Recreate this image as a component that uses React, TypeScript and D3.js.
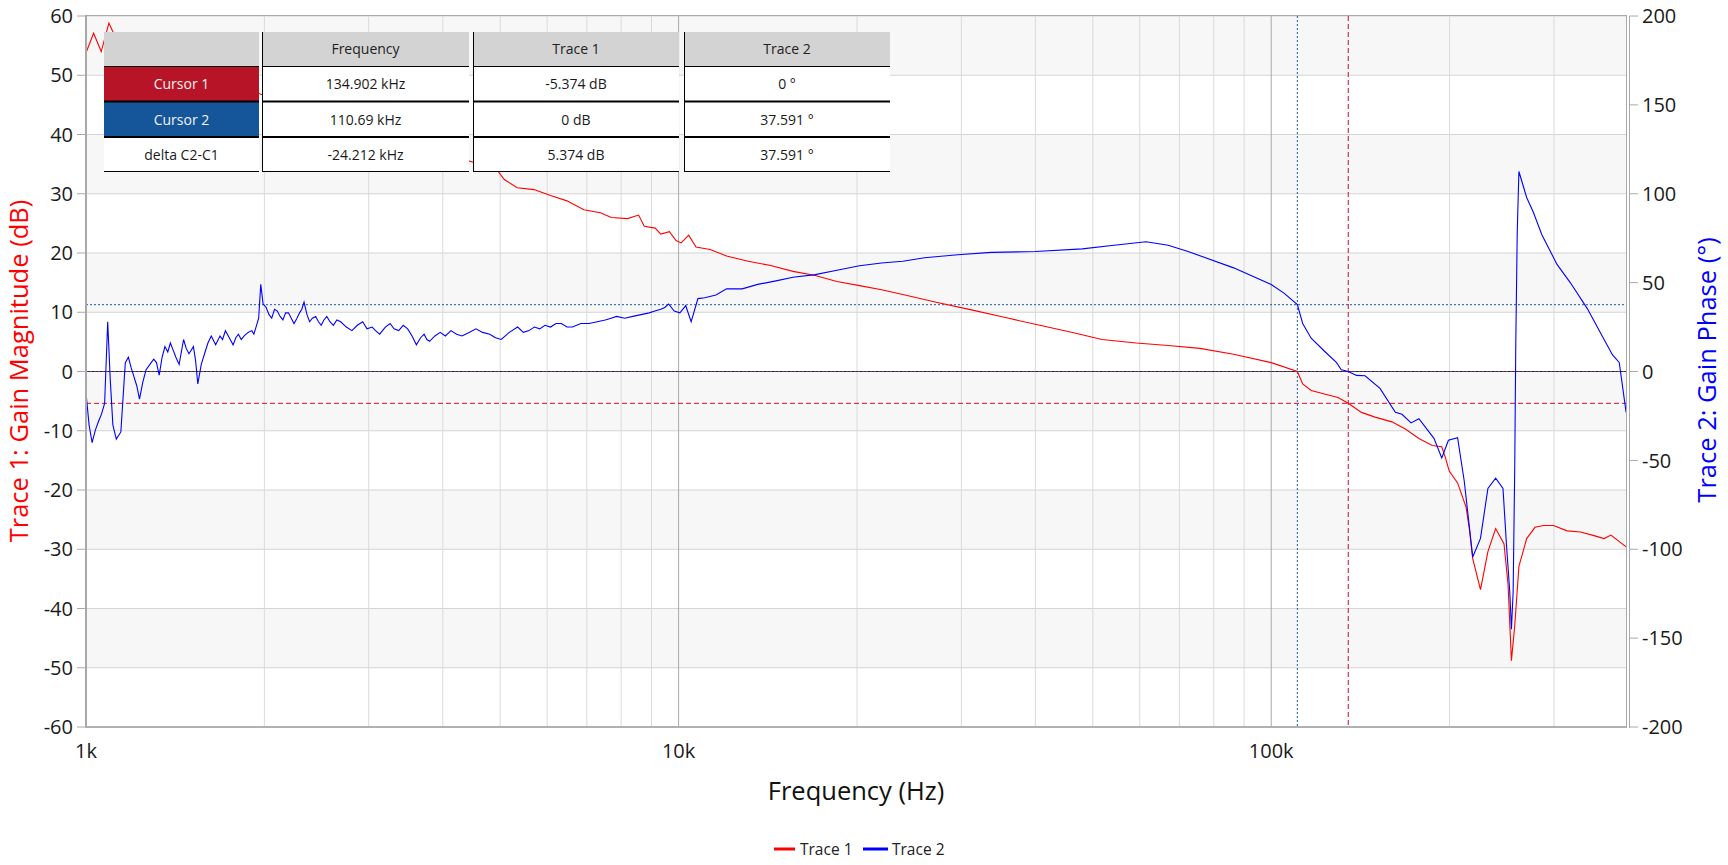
import React from 'react';
import * as d3 from 'd3';

// ---------- data ----------
const magTicks = [60, 50, 40, 30, 20, 10, 0, -10, -20, -30, -40, -50, -60];
const phaseTicks = [200, 150, 100, 50, 0, -50, -100, -150, -200];
const freqTicks = [1000, 10000, 100000];
const freqTickLabels = ['1k', '10k', '100k'];

// Trace 1: gain magnitude (dB)
const trace1FreqKHz = [
  1.0, 1.03, 1.061, 1.093, 1.12, 1.2, 1.3, 1.4, 1.55, 1.7,
  1.85, 2.0, 2.25, 2.5, 2.75, 3.0, 3.5, 4.0, 4.5, 4.95,
  5.08, 5.34, 5.7, 6.08, 6.48, 6.92, 7.38, 7.7, 8.2, 8.56,
  8.75, 9.13, 9.33, 9.65, 9.9, 10.1, 10.4, 10.7, 11.3, 12.05,
  13.1, 14.3, 15.6, 17.0, 18.5, 20.2, 22.0, 23.9, 27.2, 31.2,
  35.6, 40.7, 46.6, 51.8, 59.2, 67.0, 75.8, 86.4, 100, 110.69,
  113.0, 116.8, 123.0, 129.6, 134.902, 142.0, 149.7, 159.8, 168.4, 177.5,
  187.0, 194.0, 197.0, 199.7, 206.3, 213.2, 216.0, 218.8, 225.5, 232.1,
  239.2, 247.1, 251.0, 254.3, 257.6, 261.8, 269.8, 278.7, 288.0, 299.5,
  315.7, 332.6, 350.5, 364.5, 374.3, 397.1,
];
const trace1Mag = [
  53.8, 57.1, 54.0, 58.8, 56.5, 55.2, 54.0, 52.6, 50.8, 49.2,
  47.8, 46.6, 44.8, 43.2, 41.8, 40.6, 38.6, 36.9, 35.3, 33.9,
  32.4, 31.0, 30.7, 29.7, 28.8, 27.3, 26.8, 26.0, 25.8, 26.4,
  24.5, 24.2, 23.2, 23.6, 22.1, 21.7, 23.0, 21.0, 20.6, 19.5,
  18.6, 17.9, 16.9, 16.2, 15.2, 14.5, 13.8, 13.0, 11.7, 10.4,
  9.1, 7.8, 6.5, 5.4, 4.8, 4.4, 3.9, 2.9, 1.5, 0,
  -2.1, -3.2, -3.8, -4.4, -5.374, -6.9, -7.7, -8.5, -9.7, -11.3,
  -12.5, -12.7, -14.7, -16.8, -18.8, -22.9, -26.6, -31.6, -36.8, -30.4,
  -26.5, -29.1, -36.0, -48.8, -42.9, -32.9, -28.2, -26.3, -26.0, -26.0,
  -26.9, -27.1, -27.7, -28.2, -27.6, -29.6,
];

// Trace 2: gain phase (deg)
const trace2FreqKHz = [
  1.0, 1.012, 1.024, 1.037, 1.05, 1.062, 1.075, 1.088, 1.099, 1.11,
  1.125, 1.145, 1.165, 1.179, 1.192, 1.205, 1.218, 1.231, 1.247, 1.263,
  1.282, 1.301, 1.315, 1.329, 1.344, 1.359, 1.374, 1.388, 1.403, 1.418,
  1.436, 1.461, 1.476, 1.492, 1.518, 1.531, 1.544, 1.565, 1.585, 1.606,
  1.627, 1.655, 1.683, 1.7, 1.719, 1.745, 1.771, 1.79, 1.808, 1.828,
  1.849, 1.877, 1.905, 1.92, 1.94, 1.956, 1.972, 1.99, 2.014, 2.036,
  2.058, 2.08, 2.103, 2.126, 2.149, 2.172, 2.196, 2.22, 2.244, 2.27,
  2.293, 2.313, 2.333, 2.36, 2.384, 2.41, 2.441, 2.468, 2.494, 2.52,
  2.549, 2.58, 2.615, 2.65, 2.69, 2.75, 2.81, 2.87, 2.93, 2.98,
  3.04, 3.08, 3.13, 3.2, 3.26, 3.31, 3.37, 3.43, 3.49, 3.55,
  3.61, 3.67, 3.72, 3.76, 3.8, 3.88, 3.96, 4.04, 4.13, 4.22,
  4.31, 4.43, 4.55, 4.67, 4.8, 4.91, 5.02, 5.18, 5.35, 5.47,
  5.59, 5.71, 5.83, 5.95, 6.08, 6.21, 6.34, 6.48, 6.62, 6.84,
  7.06, 7.29, 7.52, 7.69, 7.86, 8.11, 8.37, 8.64, 8.92, 9.12,
  9.33, 9.48, 9.62, 9.83, 10.05, 10.28, 10.5, 10.78, 11.07, 11.56,
  12.05, 12.8, 13.6, 14.6, 15.6, 17.0, 18.5, 20.2, 22.0, 23.9,
  26.0, 29.6, 33.7, 40.0, 48.0, 54.3, 61.5, 67.0, 72.4, 75.8,
  86.4, 100, 105.1, 110.69, 113.0, 116.8, 123.0, 128.8, 131.3, 134.902,
  139.3, 144.0, 152.6, 162.0, 166.2, 172.2, 177.5, 188.2, 194.0, 199.1,
  206.3, 211.7, 218.8, 225.5, 232.1, 239.2, 246.1, 249.4, 252.7, 254.3,
  256.0, 257.6, 258.6, 260.1, 261.8, 269.8, 276.9, 286.1, 303.4, 319.8,
  341.5, 362.2, 376.7, 386.6, 397.1,
];
const trace2Phase = [
  -12, -30, -40, -33, -28, -24, -18, 28, -5, -30,
  -38, -34, 5, 8, 2, -3, -8, -15.6, -6, 1,
  4, 7, 5, -2, 8, 14, 11, 16, 12, 8,
  4, 18, 13, 10, 14, 6, -7, 4, 10, 16,
  20, 15, 20, 18, 23, 19, 15, 19, 21, 18,
  20, 22, 23, 21, 26, 30, 49, 38, 36, 32,
  30, 35, 34, 31, 29, 33, 33, 30, 27, 30,
  33, 35, 39, 32, 28, 30, 31, 28, 26, 29,
  31, 28, 26, 29, 28, 25, 23, 26, 28, 24,
  25, 23, 21, 25, 27, 24, 23, 26, 24, 20,
  15, 19, 21, 18, 17, 20, 22, 20, 23, 21,
  20, 22, 24, 22, 21, 19, 18, 22, 25, 22,
  23, 25, 24, 26, 25, 27, 27, 25, 25, 27,
  27, 28, 29, 30, 31, 30, 31, 32, 33, 34,
  35, 36, 38, 34, 33, 37, 28, 41, 41.5, 43,
  46.5, 46.5, 49, 51, 53, 54.5, 57, 59.5, 61, 62,
  64, 65.7, 67, 67.5, 69, 71, 73, 71, 67.5, 65.1,
  58.3, 48.9, 44.1, 37.591, 27, 18.7, 11.4, 5.1, 1, 0,
  -2.2, -2.4, -9.5, -23, -24.1, -28.9, -26.6, -37.6, -48.7, -38.7,
  -37.2, -61.6, -104.4, -93.9, -65.8, -60, -65.8, -97, -124.2, -145,
  -124.2, -53.3, 13.5, 78.1, 112.5, 97.9, 89.6, 77.1, 60.4, 49.9,
  35.4, 19.7, 9.3, 5.1, -23,
];

// cursors
const cursorFreqHz = [134902, 110690];
const cursorTrace1 = [-5.374, 0];
const cursorTrace2 = [0, 37.591];

// table
const tableHeader = ['', 'Frequency', 'Trace 1', 'Trace 2'];
const tableRowNames = ['Cursor 1', 'Cursor 2', 'delta C2-C1'];
const tableFreq = ['134.902 kHz', '110.69 kHz', '-24.212 kHz'];
const tableT1 = ['-5.374 dB', '0 dB', '5.374 dB'];
const tableT2 = ['0 °', '37.591 °', '37.591 °'];

const legendNames = ['Trace 1', 'Trace 2'];

// ---------- layout ----------
const W = 1728;
const H = 865;
const PL = 86;
const PR = 1627;
const PT = 16;
const PB = 727;
const FONT = "'Open Sans', 'Noto Sans', sans-serif";
const RED = '#ff0000';
const BLUE = '#0000ff';
const C1 = '#c8102e';
const C2 = '#1a5aa8';

export default function App() {
  const x = d3.scaleLog().domain([1000, 400000]).range([PL, PR + 1]);
  const yL = d3.scaleLinear().domain([-60, 60]).range([PB, PT]);
  const yR = d3.scaleLinear().domain([-200, 200]).range([PB, PT]);

  const t1 = trace1FreqKHz.map((f, i) => [f * 1000, trace1Mag[i]] as [number, number]);
  const t2 = trace2FreqKHz.map((f, i) => [f * 1000, trace2Phase[i]] as [number, number]);
  const line1 = d3.line<[number, number]>().x(d => x(d[0])).y(d => yL(d[1]))(t1) || '';
  const line2 = d3.line<[number, number]>().x(d => x(d[0])).y(d => yR(d[1]))(t2) || '';

  // minor frequency gridlines
  const minor: number[] = [];
  [1000, 10000, 100000].forEach(dec => {
    for (let m = 2; m <= 9; m++) {
      const f = dec * m;
      if (f < 400000) minor.push(f);
    }
  });

  // alternating bands
  const bands: [number, number][] = [];
  for (let i = 0; i < magTicks.length - 1; i += 2) bands.push([magTicks[i], magTicks[i + 1]]);

  // table geometry
  const colX = [[104, 259], [262, 469], [473, 679], [684, 890]];
  const rowY = [[32, 66], [67, 101], [102, 137], [138, 172]];
  const col1Fill = ['#b81428', '#15569a', '#ffffff'];
  const cellCols = [tableRowNames, tableFreq, tableT1, tableT2];

  return (
    <svg width={W} height={H} style={{ position: 'absolute', left: 0, top: 0, background: '#fff' }}
      fontFamily={FONT}>
      <defs>
        <clipPath id="plotclip">
          <rect x={PL} y={PT - 1} width={PR - PL} height={PB - PT + 2} />
        </clipPath>
      </defs>
      {/* plot background */}
      <rect x={PL} y={PT} width={PR - PL} height={PB - PT} fill="#ffffff" />
      {bands.map((b, i) => (
        <rect key={'b' + i} x={PL} y={yL(b[0])} width={PR - PL} height={yL(b[1]) - yL(b[0])} fill="#f7f7f7" />
      ))}
      {/* horizontal gridlines */}
      {magTicks.map(t => (
        <line key={'hg' + t} x1={PL} x2={PR} y1={yL(t)} y2={yL(t)} stroke="#d4d4d4" strokeWidth={1} />
      ))}
      {/* vertical gridlines */}
      {minor.map(f => (
        <line key={'mg' + f} x1={x(f)} x2={x(f)} y1={PT} y2={PB} stroke="#dadada" strokeWidth={1} />
      ))}
      {freqTicks.map(f => (
        <line key={'Mg' + f} x1={x(f)} x2={x(f)} y1={PT} y2={PB} stroke="#a9a9a9" strokeWidth={1} />
      ))}
      {/* zero line */}
      <line x1={PL} x2={PR} y1={yL(0)} y2={yL(0)} stroke="#222" strokeWidth={1} />

      {/* cursor lines */}
      <g clipPath="url(#plotclip)">
        <line x1={x(cursorFreqHz[1])} x2={x(cursorFreqHz[1])} y1={PT} y2={PB} stroke={C2} strokeWidth={1} strokeDasharray="2,2" />
        <line x1={PL} x2={PR} y1={yL(cursorTrace1[1])} y2={yL(cursorTrace1[1])} stroke={C2} strokeWidth={1} strokeDasharray="2,2" />
        <line x1={PL} x2={PR} y1={yR(cursorTrace2[1])} y2={yR(cursorTrace2[1])} stroke={C2} strokeWidth={1} strokeDasharray="2,2" />
        <line x1={x(cursorFreqHz[0])} x2={x(cursorFreqHz[0])} y1={PT} y2={PB} stroke={C1} strokeWidth={1} strokeDasharray="5,3" />
        <line x1={PL} x2={PR} y1={yL(cursorTrace1[0])} y2={yL(cursorTrace1[0])} stroke={C1} strokeWidth={1} strokeDasharray="5,3" />
        <line x1={PL} x2={PR} y1={yR(cursorTrace2[0])} y2={yR(cursorTrace2[0])} stroke={C1} strokeWidth={1} strokeDasharray="5,3" strokeOpacity={0.5} />
        {/* traces */}
        <path d={line1} fill="none" stroke={RED} strokeWidth={1.1} />
        <path d={line2} fill="none" stroke={BLUE} strokeWidth={1.1} />
      </g>

      {/* borders / axes */}
      <line x1={PL} x2={PR} y1={PT - 0.5} y2={PT - 0.5} stroke="#a8a8a8" strokeWidth={1} />
      <line x1={PR - 0.5} x2={PR - 0.5} y1={PT - 1} y2={PB} stroke="#a8a8a8" strokeWidth={1} />
      <line x1={PL} x2={PL} y1={PT - 1} y2={PB + 1} stroke="#a8a8a8" strokeWidth={2} />
      <line x1={PL - 1} x2={PR} y1={PB} y2={PB} stroke="#b0b0b0" strokeWidth={2} />
      <line x1={PR + 2.5} x2={PR + 2.5} y1={PT} y2={PB + 1} stroke="#a8a8a8" strokeWidth={1} />

      {/* left axis ticks & labels */}
      {magTicks.map(t => (
        <g key={'lt' + t}>
          <line x1={PL - 9} x2={PL} y1={yL(t)} y2={yL(t)} stroke="#a8a8a8" strokeWidth={1} />
          <text x={PL - 13} y={yL(t) + 7.2} textAnchor="end" fontSize={20} fill="#1a1a1a">{t}</text>
        </g>
      ))}
      {/* right axis ticks & labels */}
      {phaseTicks.map(t => (
        <g key={'rt' + t}>
          <line x1={PR + 2.5} x2={PR + 11} y1={yR(t)} y2={yR(t)} stroke="#a8a8a8" strokeWidth={1} />
          <text x={PR + 15} y={yR(t) + 7.2} textAnchor="start" fontSize={20} fill="#1a1a1a">{t}</text>
        </g>
      ))}
      {/* bottom labels */}
      {freqTicks.map((f, i) => (
        <text key={'bt' + f} x={x(f)} y={758} textAnchor="middle" fontSize={20} fill="#1a1a1a">{freqTickLabels[i]}</text>
      ))}

      {/* axis titles */}
      <text x={856} y={800} textAnchor="middle" fontSize={25.5} fill="#111">Frequency (Hz)</text>
      <text transform="translate(27.5,371) rotate(-90)" textAnchor="middle" fontSize={25.5} fill={RED}>Trace 1: Gain Magnitude (dB)</text>
      <text transform="translate(1716,370) rotate(-90)" textAnchor="middle" fontSize={25.5} fill={BLUE}>Trace 2: Gain Phase (°)</text>

      {/* legend */}
      <line x1={774} x2={795} y1={849} y2={849} stroke={RED} strokeWidth={3} />
      <text x={800} y={854.5} fontSize={15.5} fill="#222">{legendNames[0]}</text>
      <line x1={863} x2={888} y1={849} y2={849} stroke={BLUE} strokeWidth={3} />
      <text x={892} y={854.5} fontSize={15.5} fill="#222">{legendNames[1]}</text>

      {/* cursor table */}
      <g fontSize={14}>
        {colX.map((c, ci) => (
          <g key={'col' + ci}>
            <rect x={c[0]} y={rowY[0][0]} width={c[1] - c[0]} height={rowY[0][1] - rowY[0][0]} fill="#d3d3d3" />
            <text x={(c[0] + c[1]) / 2} y={(rowY[0][0] + rowY[0][1]) / 2 + 5} textAnchor="middle" fill="#222">{tableHeader[ci]}</text>
            {[0, 1, 2].map(ri => {
              const r = rowY[ri + 1];
              const fill = ci === 0 ? col1Fill[ri] : '#ffffff';
              const txtFill = ci === 0 && ri < 2 ? '#f2f2f2' : '#1a1a1a';
              return (
                <g key={'c' + ci + '-' + ri}>
                  <rect x={c[0]} y={r[0]} width={c[1] - c[0]} height={r[1] - r[0]} fill={fill} />
                  <text x={(c[0] + c[1]) / 2} y={(r[0] + r[1]) / 2 + 5} textAnchor="middle" fill={txtFill}>{cellCols[ci][ri]}</text>
                </g>
              );
            })}
            <line x1={c[0]} x2={c[1]} y1={66.5} y2={66.5} stroke="#000" strokeWidth={1} />
            <line x1={c[0]} x2={c[1]} y1={101.5} y2={101.5} stroke="#000" strokeWidth={2} />
            <line x1={c[0]} x2={c[1]} y1={137} y2={137} stroke="#000" strokeWidth={2} />
            <line x1={c[0]} x2={c[1]} y1={171.5} y2={171.5} stroke="#000" strokeWidth={1} />
            {ci > 0 && (
              <line x1={c[0] + 0.5} x2={c[0] + 0.5} y1={32} y2={172} stroke="#000" strokeWidth={1} />
            )}
          </g>
        ))}
      </g>
    </svg>
  );
}
